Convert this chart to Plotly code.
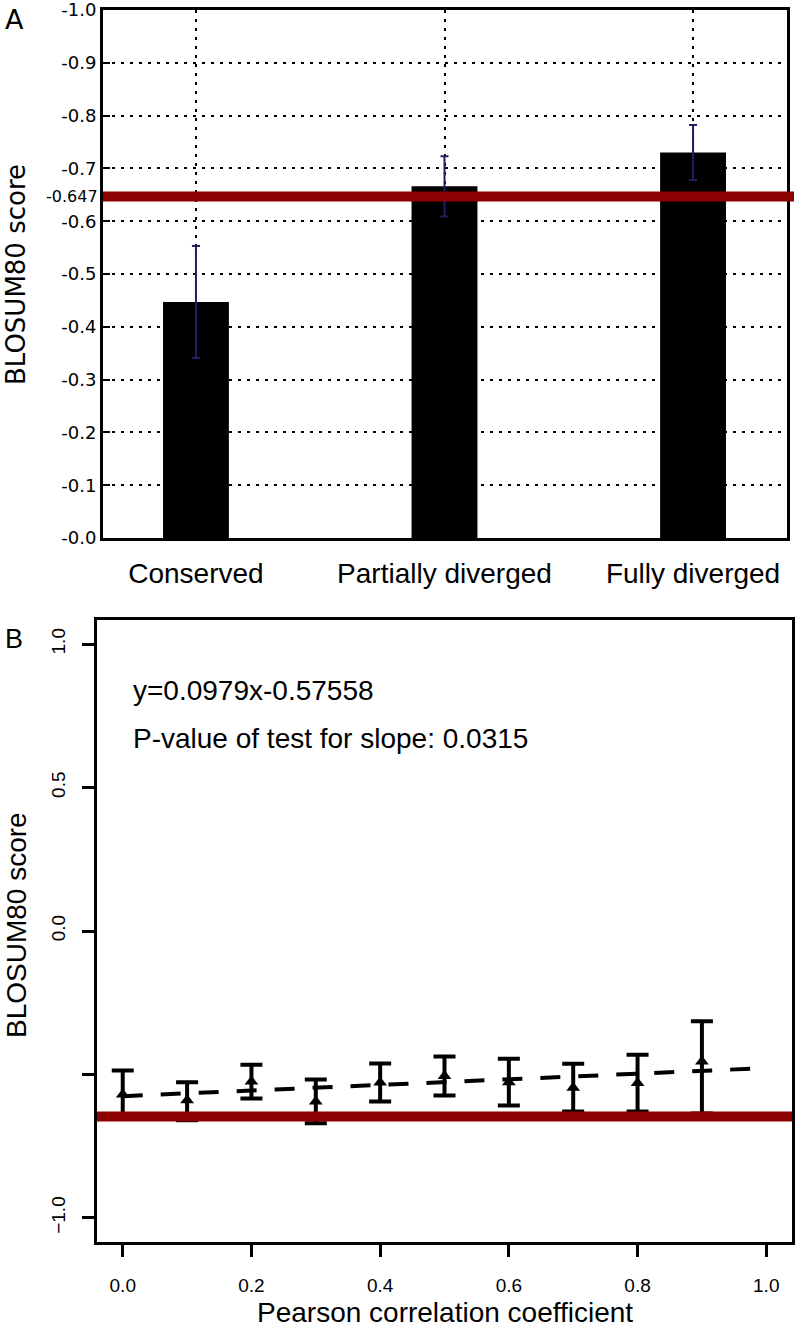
import plotly.graph_objects as go

# ---------------- Data ----------------
categories = ["Conserved", "Partially diverged", "Fully diverged"]
blosum_means = [-0.447, -0.666, -0.730]
blosum_err = [0.106, 0.057, 0.052]
reference_score = -0.647

a_ytick_vals = [-1.0, -0.9, -0.8, -0.7, -0.6, -0.5, -0.4, -0.3, -0.2, -0.1, 0.0]
a_ytick_text = ["-1.0", "-0.9", "-0.8", "-0.7", "-0.6", "-0.5", "-0.4", "-0.3", "-0.2", "-0.1", "-0.0"]

pearson_x = [0.0, 0.1, 0.2, 0.3, 0.4, 0.5, 0.6, 0.7, 0.8, 0.9]
pearson_mean = [-0.570, -0.590, -0.525, -0.594, -0.528, -0.505, -0.527, -0.546, -0.530, -0.455]
pearson_err_plus = [0.084, 0.063, 0.059, 0.076, 0.066, 0.068, 0.082, 0.083, 0.099, 0.140]
pearson_err_minus = [0.084, 0.070, 0.059, 0.076, 0.066, 0.068, 0.081, 0.083, 0.099, 0.181]

fit_slope = 0.0979
fit_intercept = -0.57558
fit_x = [0.0, 1.0]

b_xtick_vals = [0.0, 0.2, 0.4, 0.6, 0.8, 1.0]
b_xtick_text = ["0.0", "0.2", "0.4", "0.6", "0.8", "1.0"]
b_ytick_vals = [1.0, 0.5, 0.0, -0.5, -1.0]
b_ytick_text = ["1.0", "0.5", "0.0", "", "\u22121.0"]

# ---------------- Figure ----------------
W, H = 796, 1327
FONT_R = "Liberation Sans"
FONT_MPL = "DejaVu Sans"
RED = "#8b0000"

def px_x(p):
    return p / W

def px_y(p):
    return 1 - p / H

fig = go.Figure()

# Panel A bars
fig.add_trace(go.Bar(
    x=[0, 1, 2], y=blosum_means, width=0.265,
    marker=dict(color="black", line=dict(width=0)),
    error_y=dict(type="data", array=blosum_err, color="#1f1f66", thickness=2, width=4),
    xaxis="x", yaxis="y", showlegend=False,
))

# Panel B error points
fig.add_trace(go.Scatter(
    x=pearson_x, y=pearson_mean, mode="markers",
    marker=dict(symbol="triangle-up", size=12, color="black"),
    error_y=dict(type="data", symmetric=False, array=pearson_err_plus,
                 arrayminus=pearson_err_minus, color="black", thickness=4, width=11),
    xaxis="x2", yaxis="y2", showlegend=False,
))

# Panel B regression line
fit_y = [fit_slope * v + fit_intercept for v in fit_x]
fig.add_trace(go.Scatter(
    x=fit_x, y=fit_y, mode="lines",
    line=dict(color="black", width=4, dash="20px,18px"),
    xaxis="x2", yaxis="y2", showlegend=False,
))

# Reference lines
fig.add_shape(type="line", xref="paper", yref="y", x0=px_x(103), x1=px_x(794),
              y0=reference_score, y1=reference_score, line=dict(color=RED, width=10), layer="above")
fig.add_shape(type="line", xref="x2 domain", yref="y2", x0=0, x1=1,
              y0=reference_score, y1=reference_score, line=dict(color=RED, width=10), layer="above")

axis_line = dict(showline=True, linecolor="black", mirror=True, zeroline=False,
                 automargin=False, ticklabeloverflow="allow")

fig.update_layout(
    width=W, height=H,
    margin=dict(l=0, r=0, t=0, b=0, autoexpand=False),
    paper_bgcolor="white", plot_bgcolor="white",
    font=dict(family=FONT_R, color="black"),
    xaxis=dict(
        domain=[px_x(103), px_x(787)], anchor="y",
        range=[-0.374, 2.378], tickvals=[0, 1, 2], ticktext=categories,
        ticks="", tickfont=dict(size=28, family=FONT_R), ticklabelstandoff=8,
        showgrid=True, gridcolor="black", griddash="3px,6px", gridwidth=1.5,
        linewidth=3, **axis_line,
    ),
    yaxis=dict(
        domain=[px_y(538), px_y(10)], anchor="x",
        range=[0, -1.0], tickvals=a_ytick_vals, ticktext=a_ytick_text,
        ticks="inside", ticklen=7, tickwidth=1.5, tickcolor="black",
        tickfont=dict(size=18, family=FONT_MPL), ticklabelstandoff=0,
        showgrid=True, gridcolor="black", griddash="3px,6px", gridwidth=1.5,
        linewidth=3, **axis_line,
    ),
    xaxis2=dict(
        domain=[px_x(97), px_x(792)], anchor="y2",
        range=[-0.04, 1.04], tickvals=b_xtick_vals, ticktext=b_xtick_text,
        ticks="outside", ticklen=12, tickwidth=2.5, tickcolor="black",
        tickfont=dict(size=19), ticklabelstandoff=12,
        showgrid=False, linewidth=2.5, **axis_line,
    ),
    yaxis2=dict(
        domain=[px_y(1242), px_y(620)], anchor="x2",
        range=[-1.084, 1.084], tickvals=b_ytick_vals, ticktext=b_ytick_text,
        ticks="outside", ticklen=12, tickwidth=2.5, tickcolor="black",
        tickfont=dict(size=19), tickangle=-90, ticklabelstandoff=10,
        showgrid=False, linewidth=2.5, **axis_line,
    ),
)

annotations = [
    dict(text="A", x=px_x(3), y=px_y(2), xanchor="left", yanchor="top",
         font=dict(size=27, family=FONT_MPL)),
    dict(text="B", x=px_x(3), y=px_y(622), xanchor="left", yanchor="top", font=dict(size=27)),
    dict(text="BLOSUM80 score", x=px_x(16), y=px_y(275), textangle=-90,
         xanchor="center", yanchor="middle", font=dict(size=26, family=FONT_MPL)),
    dict(text="BLOSUM80 score", x=px_x(16), y=px_y(925), textangle=-90,
         xanchor="center", yanchor="middle", font=dict(size=28)),
    dict(text=str(reference_score), x=px_x(100), y=px_y(196), xanchor="right", yanchor="middle",
         font=dict(size=16, family=FONT_MPL)),
    dict(text="y=0.0979x-0.57558", x=px_x(131), y=px_y(690), xanchor="left", yanchor="middle",
         font=dict(size=28)),
    dict(text="P-value of test for slope: 0.0315", x=px_x(131), y=px_y(738), xanchor="left",
         yanchor="middle", font=dict(size=28)),
    dict(text="Pearson correlation coefficient", x=px_x(445), y=px_y(1312), xanchor="center",
         yanchor="middle", font=dict(size=28)),
]
for a in annotations:
    a.update(xref="paper", yref="paper", showarrow=False)
fig.update_layout(annotations=annotations)

fig.write_html(
    "out.html",
    config={"displayModeBar": False},
    post_script="document.body.style.margin='0';document.body.style.overflow='hidden';",
)
